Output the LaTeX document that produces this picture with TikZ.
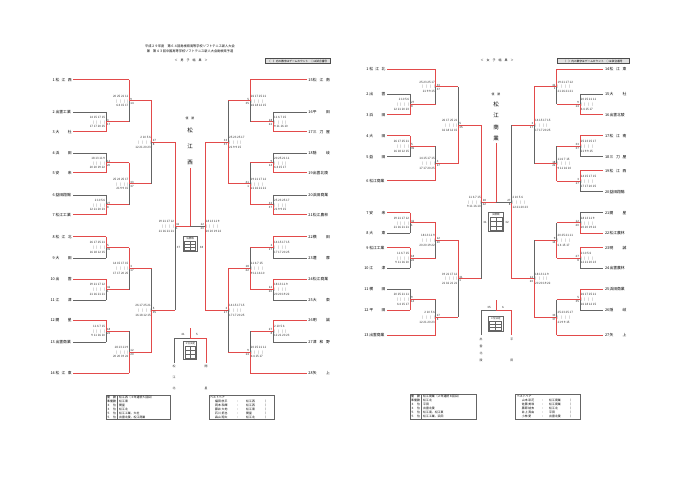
\documentclass[tikz,border=0pt]{standalone}
\usepackage{fontspec}
\setmainfont{Noto Sans CJK JP}
\definecolor{redl}{RGB}{226,74,74}
\definecolor{grayl}{RGB}{100,100,100}
\tikzset{
  rl/.style={draw=redl, line width=1.0pt},
  gl/.style={draw=grayl, line width=0.7pt},
  sc/.style={inner sep=0pt, font=\fontsize{3}{4.8}\selectfont, text=black!80},
  lb/.style={inner sep=0pt, font=\fontsize{2.9}{3}\selectfont, text=black!85},
  nm/.style={inner sep=0pt, font=\fontsize{3.8}{4}\selectfont},
  tt/.style={inner sep=0pt, font=\fontsize{3.2}{4}\selectfont},
  big/.style={inner sep=0pt, font=\fontsize{5.5}{6}\selectfont},
  tb/.style={inner sep=0pt, font=\fontsize{2.9}{3.2}\selectfont, anchor=west},
}
\newcount\myscn
\newcommand{\mybars}{|\hspace{3pt}|\hspace{3pt}|\hspace{3pt}|}
\newcommand{\myscore}[1]{\ifcase#1 25 23 25 17\\\mybars\\21 9 9 15\or
14 15 17 15\\\mybars\\17 17 20 25\or
18 13 11 9\\\mybars\\20 20 19 22\or
2 10 5 6\\\mybars\\12 21 20 23\or
26 17 25 21\\\mybars\\16 18 12 15\or
19 21 17 12\\\mybars\\21 16 21 21\or
11 6 7 15\\\mybars\\9 11 16 10\or
20 25 21 11\\\mybars\\6 4 15 17\fi}
\newcommand{\mylabA}[1]{\ifcase#1 33\or 3\or 12\or 27\or 5\or 41\or 18\or 9\fi}
\newcommand{\mylabB}[1]{\ifcase#1 37\or 17\or 20\or 8\or 35\or 1\or 22\or 14\fi}
% side, v, y1, y2, winner(1 top,2 bottom,3 both), xout, output style
\newcommand{\mymatch}[7]{%
  \pgfmathsetmacro{\mymid}{(#3+#4)/2}%
  \global\advance\myscn by 1
  \pgfmathtruncatemacro{\myk}{mod(\the\myscn,8)}%
  \ifcase#5\or
    \draw[gl] (#2,\mymid) -- (#2,#4); \draw[rl] (#2,#3) -- (#2,\mymid);
  \or
    \draw[gl] (#2,#3) -- (#2,\mymid); \draw[rl] (#2,\mymid) -- (#2,#4);
  \else
    \draw[rl] (#2,#3) -- (#2,#4);
  \fi
  \draw[#7] (#2,\mymid) -- (#6,\mymid);
  \if#1L
    \node[sc,align=right,anchor=east] at (#2-0.7,\mymid) {\myscore{\myk}};
    \node[lb,anchor=south west] at (#2+0.9,\mymid-0.6) {\mylabA{\myk}};
    \node[lb,anchor=north west] at (#2+0.9,\mymid+0.8) {\mylabB{\myk}};
  \else
    \node[sc,align=left,anchor=west] at (#2+0.7,\mymid) {\myscore{\myk}};
    \node[lb,anchor=south east] at (#2-0.9,\mymid-0.6) {\mylabA{\myk}};
    \node[lb,anchor=north east] at (#2-0.9,\mymid+0.8) {\mylabB{\myk}};
  \fi}
% xs, xe, y, style, number, name   (names on the left)
\newcommand{\mynameL}[6]{%
  \draw[#4] (#1,#3) -- (#2,#3);
  \node[nm,anchor=east] at (#1-18.3,#3) {#5};
  \node[nm,anchor=east] at (#1-1.5,#3) {\makebox[16pt][s]{#6}};}
% xs, xe, y, style, number, name   (names on the right)
\newcommand{\mynameR}[6]{%
  \draw[#4] (#1,#3) -- (#2,#3);
  \node[nm,anchor=west] at (#2+1.5,#3) {#5};
  \node[nm,anchor=west] at (#2+6,#3) {\makebox[17pt][s]{#6}};}
% score box: x1 y1 x2 y2 header
\newcommand{\myfbox}[5]{%
  \pgfmathsetmacro{\mya}{#2+4.3}\pgfmathsetmacro{\myb}{#4-1.3}%
  \pgfmathsetmacro{\myc}{\mya+(\myb-\mya)/3}\pgfmathsetmacro{\myd}{\mya+2*(\myb-\mya)/3}%
  \pgfmathsetmacro{\myxm}{(#1+#3)/2}%
  \draw[gl,line width=0.5pt] (#1,#2) rectangle (#3,#4);
  \node[lb,font=\fontsize{2.5}{3}\selectfont] at (\myxm,#2+2.2) {#5};
  \draw[gl,line width=0.3pt] (#1+1.5,\mya) rectangle (#3-1.5,\myb);
  \draw[gl,line width=0.3pt] (#1+1.5,\myc) -- (#3-1.5,\myc) (#1+1.5,\myd) -- (#3-1.5,\myd) (\myxm,\mya) -- (\myxm,\myb);}
\begin{document}
\begin{tikzpicture}[x=1pt,y=-1pt]
\fill[white] (0,0) rectangle (680,481);
\useasboundingbox (0,0) rectangle (680,481);

% ================= LEFT BRACKET (boys) =================
\node[tt] at (190,46) {平成２９年度　第６４回島根県高等学校ソフトテニス新人大会};
\node[tt] at (190,51.7) {兼　第４３回中国高等学校ソフトテニス新人大会島根県予選};
\node[tt,font=\fontsize{3}{4}\selectfont] at (191,60.7) {＜　男　子　結　果　＞};
\node[draw=black!70, fill=black!12, line width=0.7pt, inner sep=0.4pt, minimum width=65pt, minimum height=5pt, font=\fontsize{2.7}{3}\selectfont] at (297.5,61) {（　）内の数字はゲームカウント　○は試合番号};

\mynameL{73.3}{129.3}{80}{rl}{1}{松 江 西}
\mynameL{73.3}{106}{112}{gl}{2}{出雲工業}
\mynameL{73.3}{106}{132}{rl}{3}{大 社}
\mynameL{73.3}{106}{153}{gl}{4}{浜 田}
\mynameL{73.3}{106}{173}{rl}{5}{安 来}
\mynameL{73.3}{106}{195}{gl}{6}{益田翔陽}
\mynameL{73.3}{106}{215}{rl}{7}{松江工業}
\mynameL{73.3}{106}{237}{rl}{8}{松 江 北}
\mynameL{73.3}{106}{258}{gl}{9}{大 田}
\mynameL{73.3}{106}{279}{rl}{10}{出 雲}
\mynameL{73.3}{106}{300}{gl}{11}{江 津}
\mynameL{73.3}{106}{320}{rl}{12}{開 星}
\mynameL{73.3}{106}{342}{gl}{13}{出雲商業}
\mynameL{73.3}{129.3}{373}{rl}{14}{松 江 東}

\mynameR{250}{306.7}{80}{rl}{15}{松 江 南}
\mynameR{273.3}{306.7}{112}{gl}{16}{平 田}
\mynameR{273.3}{306.7}{132}{rl}{17}{三 刀 屋}
\mynameR{273.3}{306.7}{153}{gl}{18}{隠 岐}
\mynameR{273.3}{306.7}{173}{rl}{19}{出雲北陵}
\mynameR{273.3}{306.7}{195}{gl}{20}{浜田商業}
\mynameR{273.3}{306.7}{215}{rl}{21}{松江農林}
\mynameR{273.3}{306.7}{237}{rl}{22}{横 田}
\mynameR{273.3}{306.7}{258}{gl}{23}{邇 摩}
\mynameR{273.3}{306.7}{279}{rl}{24}{松江商業}
\mynameR{273.3}{306.7}{300}{gl}{25}{大 東}
\mynameR{273.3}{306.7}{320}{rl}{26}{明 誠}
\mynameR{273.3}{306.7}{342}{gl}{27}{津 和 野}
\mynameR{250}{306.7}{373}{rl}{28}{矢 上}

\mymatch{L}{106}{112}{132}{2}{129.3}{rl}
\mymatch{L}{106}{153}{173}{2}{129.3}{rl}
\mymatch{L}{106}{195}{215}{2}{129.3}{rl}
\mymatch{L}{106}{237}{258}{1}{129.3}{rl}
\mymatch{L}{106}{279}{300}{1}{129.3}{rl}
\mymatch{L}{106}{320}{342}{1}{129.3}{rl}
\mymatch{L}{129.3}{80}{122}{1}{151.7}{rl}
\mymatch{L}{129.3}{163}{205}{1}{151.7}{rl}
\mymatch{L}{129.3}{247.5}{289.5}{1}{151.7}{rl}
\mymatch{L}{129.3}{331}{373}{2}{151.7}{rl}
\mymatch{L}{151.7}{101}{184}{1}{175}{rl}
\mymatch{L}{151.7}{268.5}{352}{2}{175}{rl}
\mymatch{L}{175}{142.5}{310.25}{1}{190}{rl}

\mymatch{R}{273.3}{112}{132}{2}{250}{rl}
\mymatch{R}{273.3}{153}{173}{2}{250}{rl}
\mymatch{R}{273.3}{195}{215}{2}{250}{rl}
\mymatch{R}{273.3}{237}{258}{1}{250}{rl}
\mymatch{R}{273.3}{279}{300}{1}{250}{rl}
\mymatch{R}{273.3}{320}{342}{1}{250}{rl}
\mymatch{R}{250}{80}{122}{1}{228.3}{rl}
\mymatch{R}{250}{163}{205}{2}{228.3}{rl}
\mymatch{R}{250}{247.5}{289.5}{2}{228.3}{rl}
\mymatch{R}{250}{331}{373}{2}{228.3}{rl}
\mymatch{R}{228.3}{101}{184}{2}{205}{rl}
\mymatch{R}{228.3}{268.5}{352}{1}{205}{rl}
\mymatch{R}{205}{142.5}{310.25}{3}{190}{gl}

% champion
\draw[rl] (190,226.4) -- (190,168.3);
\node[lb] at (190,118.3) {優　勝};
\node[big] at (190,130) {松};
\node[big] at (190,146.6) {江};
\node[big] at (190,163) {西};
\myfbox{183}{236.7}{197}{251.7}{決勝戦}
\node[lb] at (178.5,247.3) {37};
\node[lb] at (201.5,247.3) {38};

% third place (boys)
\draw[gl] (174,338.3) -- (190,338.3);
\draw[gl] (174,338.3) -- (174,362.7);
\draw[rl] (190,328) -- (190,338.3) -- (206,338.3) -- (206,362.7);
\myfbox{183.3}{341.7}{196.7}{359.3}{３位決定}
\node[lb] at (183,334.8) {41};
\node[lb] at (197,334.8) {5};
\node[lb] at (174,366) {松};
\node[lb] at (174,377) {江};
\node[lb] at (174,388) {北};
\node[lb] at (206,366) {開};
\node[lb] at (206,388) {星};

% tables (boys)
\draw[gl,line width=0.6pt] (106,394.8) rectangle (170.7,419.3);
\draw[gl,line width=0.4pt] (117.3,394.8) -- (117.3,419.3);
\node[tb] at (107,397) {優　勝}; \node[tb] at (119,397) {松江西（３年連続５回目）};
\node[tb] at (107,401) {準優勝}; \node[tb] at (119,401) {松江東};
\node[tb] at (107,405) {３　位}; \node[tb] at (119,405) {開星};
\node[tb] at (107,409) {３　位}; \node[tb] at (119,409) {松江北};
\node[tb] at (107,413) {５　位}; \node[tb] at (119,413) {松江工業，大社};
\node[tb] at (107,417) {５　位}; \node[tb] at (119,417) {出雲北陵，松江商業};
\draw[gl,line width=0.6pt] (209,394.8) rectangle (274,419.3);
\node[tb] at (210,397) {ベストペア};
\node[tb] at (215,401) {福田 航平}; \node[tb] at (236,401) {：}; \node[tb] at (246,401) {松江西}; \node[tb] at (265,401) {）};
\node[tb] at (215,405) {岡本 和輝}; \node[tb] at (236,405) {：}; \node[tb] at (246,405) {松江西}; \node[tb] at (265,405) {）};
\node[tb] at (215,409) {藤井 大地}; \node[tb] at (236,409) {：}; \node[tb] at (246,409) {松江東}; \node[tb] at (265,409) {）};
\node[tb] at (215,413) {石川 拓也}; \node[tb] at (236,413) {：}; \node[tb] at (246,413) {開星}; \node[tb] at (265,413) {）};
\node[tb] at (215,417) {森山 翔太}; \node[tb] at (236,417) {：}; \node[tb] at (246,417) {松江北}; \node[tb] at (265,417) {）};

% ================= RIGHT BRACKET (girls) =================
\node[tt,font=\fontsize{3}{4}\selectfont] at (497,60.7) {＜　女　子　結　果　＞};
\node[draw=black!70, fill=black!12, line width=0.7pt, inner sep=0.4pt, minimum width=72pt, minimum height=5pt, font=\fontsize{2.7}{3}\selectfont] at (593,61) {（　）内の数字はゲームカウント　○は試合番号};

\mynameL{387}{435.7}{69.3}{rl}{1}{松 江 北}
\mynameL{387}{410}{94}{gl}{2}{出 雲}
\mynameL{387}{410}{115}{rl}{3}{浜 田}
\mynameL{387}{410}{136}{rl}{4}{大 田}
\mynameL{387}{410}{156.7}{gl}{5}{益 田}
\mynameL{387}{435.7}{181}{rl}{6}{松江商業}
\mynameL{387}{410}{212.7}{rl}{7}{安 来}
\mynameL{387}{410}{233.3}{gl}{8}{大 東}
\mynameL{387}{410}{247.7}{rl}{9}{松江工業}
\mynameL{387}{410}{268.3}{gl}{10}{江 津}
\mynameL{387}{410}{289.3}{gl}{11}{横 田}
\mynameL{387}{410}{310}{rl}{12}{平 田}
\mynameL{387}{435.7}{335}{rl}{13}{出雲商業}

\mynameR{556.7}{603.3}{69.3}{rl}{14}{松 江 東}
\mynameR{580}{603.3}{94}{gl}{15}{大 社}
\mynameR{580}{603.3}{115}{rl}{16}{出雲北陵}
\mynameR{580}{603.3}{136}{rl}{17}{松 江 南}
\mynameR{580}{603.3}{156.7}{gl}{18}{三 刀 屋}
\mynameR{580}{603.3}{171}{rl}{19}{松 江 西}
\mynameR{580}{603.3}{191.7}{gl}{20}{益田翔陽}
\mynameR{580}{603.3}{212.7}{gl}{21}{開 星}
\mynameR{580}{603.3}{233.3}{rl}{22}{松江農林}
\mynameR{580}{603.3}{247.7}{rl}{23}{明 誠}
\mynameR{580}{603.3}{268.3}{gl}{24}{出雲農林}
\mynameR{580}{603.3}{289.3}{rl}{25}{浜田商業}
\mynameR{580}{603.3}{310}{gl}{26}{隠 岐}
\mynameR{556.7}{603.3}{335}{rl}{27}{矢 上}

\mymatch{L}{410}{94}{115}{2}{435.7}{rl}
\mymatch{L}{410}{136}{156.7}{1}{435.7}{rl}
\mymatch{L}{410}{212.7}{233.3}{1}{435.7}{rl}
\mymatch{L}{410}{247.7}{268.3}{1}{435.7}{rl}
\mymatch{L}{410}{289.3}{310}{2}{435.7}{rl}
\mymatch{L}{435.7}{69.3}{104.5}{1}{458.3}{rl}
\mymatch{L}{435.7}{146.35}{181}{2}{458.3}{rl}
\mymatch{L}{435.7}{223}{258}{1}{458.3}{rl}
\mymatch{L}{435.7}{299.65}{335}{2}{458.3}{rl}
\mymatch{L}{458.3}{86.9}{163.7}{2}{481.7}{rl}
\mymatch{L}{458.3}{240.5}{317.3}{1}{481.7}{rl}
\mymatch{L}{481.7}{125.3}{278.9}{1}{496}{rl}

\mymatch{R}{580}{94}{115}{2}{556.7}{rl}
\mymatch{R}{580}{136}{156.7}{1}{556.7}{rl}
\mymatch{R}{580}{171}{191.7}{1}{556.7}{rl}
\mymatch{R}{580}{212.7}{233.3}{2}{556.7}{rl}
\mymatch{R}{580}{247.7}{268.3}{1}{556.7}{rl}
\mymatch{R}{580}{289.3}{310}{1}{556.7}{rl}
\mymatch{R}{556.7}{69.3}{104.5}{1}{534.3}{rl}
\mymatch{R}{556.7}{146.35}{181.35}{2}{534.3}{rl}
\mymatch{R}{556.7}{223}{258}{2}{534.3}{rl}
\mymatch{R}{556.7}{299.65}{335}{2}{534.3}{rl}
\mymatch{R}{534.3}{86.9}{163.85}{1}{511.7}{rl}
\mymatch{R}{534.3}{240.5}{317.3}{2}{511.7}{rl}
\mymatch{R}{511.7}{125.4}{278.9}{2}{496}{gl}

% champion (girls)
\draw[rl] (496,202.1) -- (496,143.3);
\node[lb] at (496,94) {優　勝};
\node[big] at (496,104) {松};
\node[big] at (496,115.8) {江};
\node[big] at (496,127.3) {商};
\node[big] at (496,138.7) {業};
\myfbox{488.3}{212.7}{503.3}{231.7}{決勝戦}
\node[lb] at (485,222.7) {31};
\node[lb] at (507,222.7) {32};

% third place (girls)
\draw[gl] (481,310.7) -- (496,310.7);
\draw[gl] (481,310.7) -- (481,335);
\draw[rl] (496,300) -- (496,310.7) -- (511.7,310.7) -- (511.7,335);
\myfbox{488}{316.7}{503}{331.7}{３位決定}
\node[lb] at (489,307) {35};
\node[lb] at (503,307) {6};
\node[lb] at (481,339) {出};
\node[lb] at (481,346) {雲};
\node[lb] at (481,353) {北};
\node[lb] at (481,360) {陵};
\node[lb] at (511.7,339) {平};
\node[lb] at (511.7,360) {田};

% tables (girls)
\draw[gl,line width=0.6pt] (410,394.3) rectangle (476.7,419.3);
\draw[gl,line width=0.4pt] (421.3,394.3) -- (421.3,419.3);
\node[tb] at (411,396.5) {優　勝}; \node[tb] at (423,396.5) {松江商業（２年連続８回目）};
\node[tb] at (411,400.5) {準優勝}; \node[tb] at (423,400.5) {松江北};
\node[tb] at (411,404.5) {３　位}; \node[tb] at (423,404.5) {平田};
\node[tb] at (411,408.5) {３　位}; \node[tb] at (423,408.5) {出雲北陵};
\node[tb] at (411,412.5) {５　位}; \node[tb] at (423,412.5) {松江南，松江東};
\node[tb] at (411,416.5) {５　位}; \node[tb] at (423,416.5) {松江工業，浜田};
\draw[gl,line width=0.6pt] (515.7,394.3) rectangle (580.7,419.3);
\node[tb] at (516.7,396.5) {ベストペア};
\node[tb] at (521.7,400.5) {山本 彩花}; \node[tb] at (541,400.5) {：}; \node[tb] at (549,400.5) {松江商業}; \node[tb] at (570,400.5) {）};
\node[tb] at (521.7,404.5) {佐藤 美咲}; \node[tb] at (541,404.5) {：}; \node[tb] at (549,404.5) {松江商業}; \node[tb] at (570,404.5) {）};
\node[tb] at (521.7,408.5) {藤原 結衣}; \node[tb] at (541,408.5) {：}; \node[tb] at (549,408.5) {松江北}; \node[tb] at (570,408.5) {）};
\node[tb] at (521.7,412.5) {井上 真由}; \node[tb] at (541,412.5) {：}; \node[tb] at (549,412.5) {平田}; \node[tb] at (570,412.5) {）};
\node[tb] at (521.7,416.5) {小林 愛}; \node[tb] at (541,416.5) {：}; \node[tb] at (549,416.5) {出雲北陵}; \node[tb] at (570,416.5) {）};
\end{tikzpicture}
\end{document}
